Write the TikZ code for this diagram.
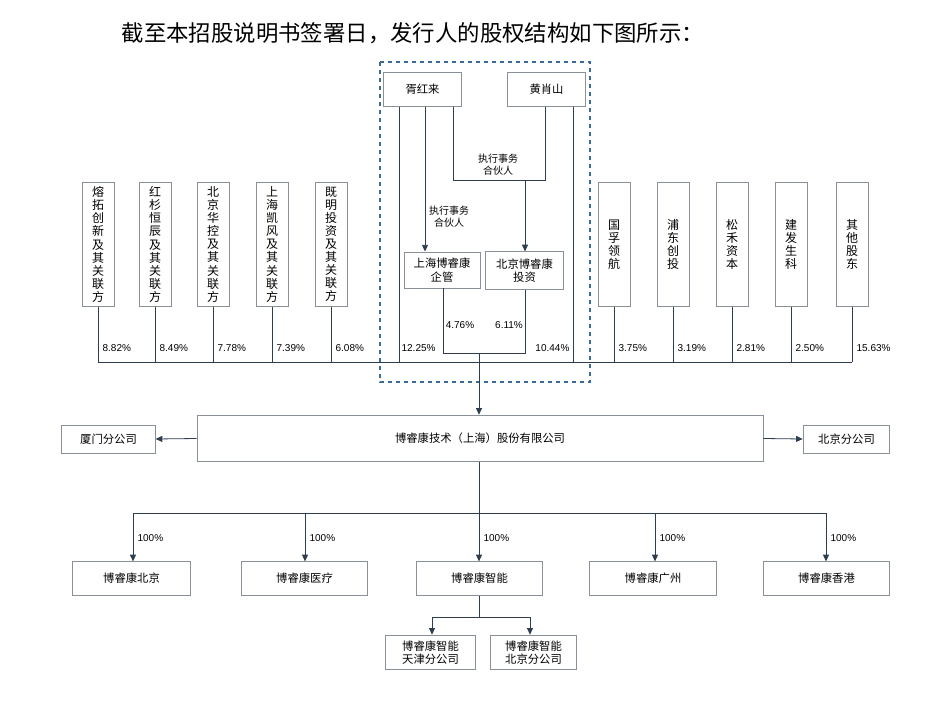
\documentclass[tikz,border=0pt]{standalone}
\usepackage{fontspec}
\setmainfont{Noto Sans CJK SC}
\newfontfamily\pct{Liberation Sans}
\usetikzlibrary{arrows.meta}
\definecolor{bd}{HTML}{8A9099}
\definecolor{ln}{HTML}{2E3E50}
\definecolor{dsh}{HTML}{3A6A9A}
\begin{document}
\begin{tikzpicture}[x=0.75pt,y=-0.75pt,
 bx/.style={draw=bd,line width=0.7pt,fill=white,font=\fontsize{8.5}{10}\selectfont,align=center,inner sep=0pt},
 vb/.style={bx,minimum width=24pt,minimum height=93pt,anchor=north,font=\fontsize{9}{9.8}\selectfont},
 ln/.style={draw=ln,line width=0.6pt},
 ar/.style={ln,-{Triangle[length=5pt,width=4.5pt]}},
 pc/.style={font=\pct\fontsize{7.5}{9}\selectfont,inner sep=1pt},
 lb/.style={font=\fontsize{7.5}{9}\selectfont,align=center,inner sep=0pt}]
\useasboundingbox (0,0) rectangle (931,720);
\node[font=\fontsize{16.8}{20}\selectfont,anchor=west] (title) at (117,33) {截至本招股说明书签署日，发行人的股权结构如下图所示：};
\draw[dsh,dashed,line width=0.8pt] (380,62) rectangle (590,382);
\node[bx,minimum width=59pt,minimum height=25pt] (xu) at (422.5,89.5) {胥红来};
\node[bx,minimum width=58pt,minimum height=25pt] (hx) at (546.5,89.5) {黄肖山};
\node[bx,minimum width=57pt,minimum height=27pt] (sh) at (442,270) {上海博睿康\\企管};
\node[bx,minimum width=58pt,minimum height=28pt] (bj) at (524.5,270.5) {北京博睿康\\投资};
\foreach \n/\x/\t in {a/98/熔\\拓\\创\\新\\及\\其\\关\\联\\方,b/155/红\\杉\\恒\\辰\\及\\其\\关\\联\\方,c/213/北\\京\\华\\控\\及\\其\\关\\联\\方,d/272/上\\海\\凯\\风\\及\\其\\关\\联\\方,e/331/既\\明\\投\\资\\及\\其\\关\\联\\方,f/614/国\\孚\\领\\航,g/673/浦\\东\\创\\投,h/732/松\\禾\\资\\本,i/791/建\\发\\生\\科,j/852/其\\他\\股\\东}
 \node[vb] (\n) at (\x,182) {\t};
\coordinate (bl) at (98,362); \coordinate (br) at (852,362);
\draw[ln] (bl) -- (br);
\foreach \n/\x/\p in {a/98/8.82\%,b/155/8.49\%,c/213/7.78\%,d/272/7.39\%,e/331/6.08\%,f/614/3.75\%,g/673/3.19\%,h/732/2.81\%,i/791/2.50\%,j/852/15.63\%}{
 \draw[ln] (\n.south) -- (\x,362);
 \node[pc,anchor=west] at (\x+3,348) {\p};}
\draw[ln] (xu.south -| 399,0) -- (399,362);
\node[pc,anchor=west] at (400,348) {12.25\%};
\draw[ln] (hx.south -| 573,0) -- (573,362);
\node[pc,anchor=east] at (571,348) {10.44\%};
\draw[ar] (xu.south -| 425,0) -- (sh.north -| 425,0);
\node[lb] at (449,217) {执行事务\\合伙人};
\draw[ln] (xu.south -| 453,0) -- (453,180) -- (545,180) -- (hx.south -| 545,0);
\draw[ar] (525,180) -- (bj.north -| 525,0);
\node[lb] at (498,165) {执行事务\\合伙人};
\draw[ln] (sh.south -| 443,0) -- (443,353) -- (525,353) -- (bj.south -| 525,0);
\node[pc] at (460,325) {4.76\%};
\node[pc] at (509,325) {6.11\%};
\node[bx,minimum width=424.5pt,minimum height=35pt] (m) at (480,438.5) {博睿康技术（上海）股份有限公司};
\draw[ar] (479,353) -- (m.north -| 479,0);
\node[bx,minimum width=70pt,minimum height=21pt] (xm) at (108.5,439) {厦门分公司};
\node[bx,minimum width=65pt,minimum height=21pt] (bf) at (846.5,439) {北京分公司};
\draw[ar] (m.west) -- (xm.east);
\draw[ar] (m.east) -- (bf.west);
\draw[ln] (m.south -| 479,0) -- (479,513);
\draw[ln] (133,513) -- (826,513);
\foreach \n/\x/\w/\t in {c1/131.5/88/博睿康北京,c2/304.5/95/博睿康医疗,c3/479.5/95/博睿康智能,c4/653/95/博睿康广州,c5/826.5/95/博睿康香港}
 \node[bx,minimum width=\w pt,minimum height=25pt] (\n) at (\x,578.5) {\t};
\foreach \n/\x in {c1/133,c2/305,c3/479,c4/655,c5/826}{
 \draw[ar] (\x,513) -- (\n.north -| \x,0);
 \node[pc,anchor=west] at (\x+3,538) {100\%};}
\node[bx,minimum width=67pt,minimum height=26pt] (t1) at (430.5,652.5) {博睿康智能\\天津分公司};
\node[bx,minimum width=65pt,minimum height=26pt] (t2) at (533.5,652.5) {博睿康智能\\北京分公司};
\draw[ln] (c3.south -| 479,0) -- (479,617);
\draw[ln] (432,617) -- (530,617);
\draw[ar] (432,617) -- (t1.north -| 432,0);
\draw[ar] (530,617) -- (t2.north -| 530,0);
\end{tikzpicture}
\end{document}
